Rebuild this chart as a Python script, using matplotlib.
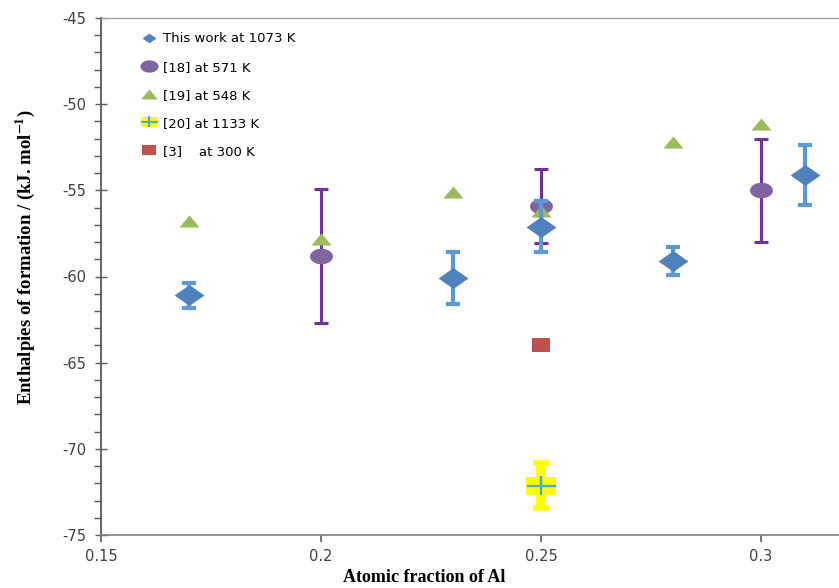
import numpy as np
import matplotlib
matplotlib.use("Agg")
import matplotlib.pyplot as plt
from matplotlib.lines import Line2D

# DATA
x_this = [0.17, 0.23, 0.25, 0.28, 0.31]
y_this = [-61.1, -60.1, -57.1, -59.1, -54.1]
e_this = [0.7, 1.5, 1.5, 0.8, 1.75]

x_18 = [0.20, 0.25, 0.30]
y_18 = [-58.8, -55.9, -55.0]
e_18 = [3.9, 2.15, 3.0]

x_19 = [0.17, 0.20, 0.23, 0.25, 0.28, 0.30]
y_19 = [-56.8, -57.8, -55.1, -56.2, -52.2, -51.15]

x_20 = [0.25]
y_20 = [-72.15]
e_20 = [1.3]

x_3 = [0.25]
y_3 = [-64.0]

labels = ["This work at 1073 K", "[18] at 571 K", "[19] at 548 K",
          "[20] at 1133 K", "[3]    at 300 K"]

plt.rcParams["axes.unicode_minus"] = False
plt.rcParams["mathtext.fontset"] = "stix"

# MARKER SHAPES (flattened like the original)
diamond = [(-1, 0), (0, 0.7), (1, 0), (0, -0.7), (-1, 0)]
t = np.linspace(0, 2 * np.pi, 40)
ellipse = list(zip(np.cos(t), 0.68 * np.sin(t)))
triangle = [(-1, -0.6), (0, 0.6), (1, -0.6), (-1, -0.6)]
rect_red = [(-1, -0.78), (1, -0.78), (1, 0.78), (-1, 0.78), (-1, -0.78)]
rect_yel = [(-1, -0.6), (1, -0.6), (1, 0.6), (-1, 0.6), (-1, -0.6)]
plus = [(-1, 0), (1, 0), (0, 0), (0, 0.62), (0, -0.62)]

blue = "#4f81bd"
blue_err = "#5b9bd5"
purple = "#8064a2"
purple_err = "#7030a0"
green = "#9bbb59"
red = "#c0504d"
yellow = "#ffff00"
teal = "#4bacc6"

fig = plt.figure(figsize=(8.39, 5.88), dpi=100)
ax = fig.add_axes([101 / 839, 53 / 588, 738 / 839, 517 / 588])

# [18]
ax.errorbar(x_18, y_18, yerr=e_18, fmt="none", ecolor=purple_err,
            elinewidth=2.2, capsize=5, capthick=2.2, zorder=2)
ax.plot(x_18, y_18, linestyle="none", marker=ellipse, markersize=16.5,
        color=purple, markeredgewidth=0, zorder=3)

# [19]
ax.plot(x_19, y_19, linestyle="none", marker=triangle, markersize=14.5,
        color=green, markeredgewidth=0, zorder=4)

# [20]
ax.errorbar(x_20, y_20, yerr=e_20, fmt="none", ecolor=yellow,
            elinewidth=7, capsize=6, capthick=4, zorder=2)
ax.plot(x_20, y_20, linestyle="none", marker=rect_yel, markersize=22,
        color=yellow, markeredgewidth=0, zorder=3)
ax.plot(x_20, y_20, linestyle="none", marker=plus, markersize=20,
        markeredgecolor=teal, markeredgewidth=1.6, fillstyle="none", zorder=4)

# [3]
ax.plot(x_3, y_3, linestyle="none", marker=rect_red, markersize=13,
        color=red, markeredgewidth=0, zorder=3)

# This work
ax.errorbar(x_this, y_this, yerr=e_this, fmt="none", ecolor=blue_err,
            elinewidth=3, capsize=5, capthick=3, zorder=5)
ax.plot(x_this, y_this, linestyle="none", marker=diamond, markersize=21.5,
        color=blue, markeredgewidth=0, zorder=6)

ax.set_xlim(0.15, 0.15 + 738 / 4400)
ax.set_ylim(-75, -45)
ax.set_xticks([0.15, 0.2, 0.25, 0.3])
ax.set_xticklabels(["0.15", "0.2", "0.25", "0.3"])
ax.set_yticks(range(-75, -44, 5))
ax.set_yticks(range(-75, -44, 1), minor=True)

ax.spines["right"].set_visible(False)
ax.spines["top"].set_color("#a6a6a6")
ax.spines["top"].set_linewidth(1)
ax.spines["left"].set_color("#595959")
ax.spines["left"].set_linewidth(1.3)
ax.spines["bottom"].set_color("#7f7f7f")
ax.spines["bottom"].set_linewidth(1.2)

ax.tick_params(axis="y", which="major", direction="inout", length=9,
               width=1, color="#595959", labelsize=10.5, labelcolor="#404040", pad=6)
ax.tick_params(axis="y", which="minor", direction="out", length=5,
               width=1, color="#595959")
ax.tick_params(axis="x", which="major", direction="out", length=5,
               width=1.2, color="#595959", labelsize=10.5, labelcolor="#404040", pad=5)

fig.text(424 / 839, 10 / 588, "Atomic fraction of Al", ha="center", va="center",
         family="Liberation Serif", fontweight="bold", fontsize=13)
fig.text(25 / 839, 1 - 257 / 588, r"Enthalpies of formation / (kJ. mol$^{\mathbf{-1}}$)",
         rotation=90, ha="center", va="center", family="Liberation Serif",
         fontweight="bold", fontsize=13.5)

# LEGEND
handles = [
    Line2D([], [], linestyle="none", marker=diamond, markersize=10, color=blue, markeredgewidth=0),
    Line2D([], [], linestyle="none", marker=ellipse, markersize=13, color=purple, markeredgewidth=0),
    Line2D([], [], linestyle="none", marker=triangle, markersize=12, color=green, markeredgewidth=0),
    (Line2D([], [], linestyle="none", marker=rect_yel, markersize=11, color=yellow, markeredgewidth=0),
     Line2D([], [], linestyle="none", marker=plus, markersize=11, markeredgecolor=teal,
            markeredgewidth=1.5, fillstyle="none")),
    Line2D([], [], linestyle="none", marker=rect_red, markersize=10, color=red, markeredgewidth=0),
]
ax.legend(handles, labels, loc="upper left", bbox_to_anchor=(0.045, 0.99),
          frameon=False, fontsize=9.5, handlelength=0.9, handletextpad=0.6,
          labelspacing=1.15, borderpad=0.2)

fig.savefig("out.png", dpi=100)
